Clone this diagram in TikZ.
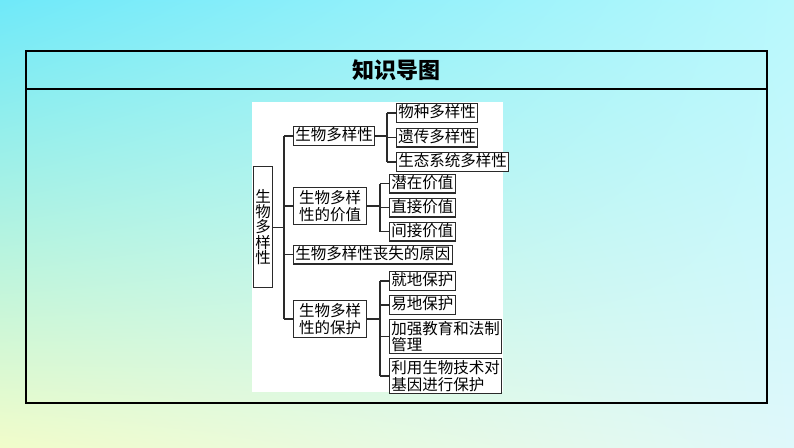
\documentclass[tikz,border=0pt]{standalone}
\usepackage{fontspec}
\newfontfamily\cjk{Noto Sans CJK SC}
\usepackage{tikz}
\usetikzlibrary{positioning,shadings}

\definecolor{bgtl}{HTML}{6FE9F9}
\definecolor{bgtr}{HTML}{B8F8FC}
\definecolor{bgbl}{HTML}{F1FCCA}
\definecolor{bgbr}{HTML}{DFF8FB}
\definecolor{inkgray}{HTML}{2A2A2A}

\begin{document}
\begin{tikzpicture}[
x=1pt,y=-1pt,
cell/.style={draw=inkgray,line width=1.1pt,fill=white,inner xsep=1.8pt,inner ysep=1.7pt,align=left,font=\cjk\fontsize{15.5}{16.5}\selectfont},
leaf/.style={cell,text height=12.5pt,text depth=3pt},
mid/.style={cell,inner xsep=5.5pt,inner ysep=3pt},
rootbox/.style={cell,minimum height=121pt,align=center,font=\cjk\fontsize{15.5}{15.3}\selectfont},
link/.style={draw=inkgray,line width=1.1pt}
]
\useasboundingbox (0,0) rectangle (794,447);
\shade[upper left=bgtl,upper right=bgtr,lower left=bgbl,lower right=bgbr] (0,0) rectangle (794,447);
\draw[line width=1.2pt] (26,51) rectangle (767,403);
\draw[line width=1.2pt] (26,89) -- (767,89);
\node[font=\cjk\bfseries\fontsize{22}{26}\selectfont] (title) at (396.5,70.5) {知识导图};
\fill[white] (252,102) rectangle (503,392);

\node[rootbox,anchor=north west] (root) at (253,166) {生\\物\\多\\样\\性};
\node[leaf,anchor=west] (div) at (293,136) {生物多样性};
\node[mid,anchor=west] (val) at (293,206) {生物多样\\性的价值};
\node[leaf,anchor=west] (loss) at (293,254.5) {生物多样性丧失的原因};
\node[mid,anchor=west] (prot) at (293,319) {生物多样\\性的保护};

\node[leaf,anchor=north west] (species) at (396,103) {物种多样性};
\node[leaf,below=4.5pt of species.south west,anchor=north west] (gene) {遗传多样性};
\node[leaf,below=4.5pt of gene.south west,anchor=north west] (eco) {生态系统多样性};

\node[leaf,anchor=north west] (latent) at (389,173.5) {潜在价值};
\node[leaf,below=4pt of latent.south west,anchor=north west] (direct) {直接价值};
\node[leaf,below=4pt of direct.south west,anchor=north west] (indirect) {间接价值};

\node[leaf,anchor=north west] (insitu) at (389,271) {就地保护};
\node[leaf,below=4pt of insitu.south west,anchor=north west] (exsitu) {易地保护};
\node[cell,below=4pt of exsitu.south west,anchor=north west] (law) {加强教育和法制\\管理};
\node[cell,below=4pt of law.south west,anchor=north west] (biotech) {利用生物技术对\\基因进行保护};

\coordinate (trunk) at (284,0);
\coordinate (fork1) at (387,0);
\coordinate (fork2) at (380,0);

\draw[link] (root.east) -- (root.east -| trunk);
\draw[link] (div.west -| trunk) -- (prot.west -| trunk);
\draw[link] (div.west) -- (div.west -| trunk);
\draw[link] (val.west) -- (val.west -| trunk);
\draw[link] (loss.west) -- (loss.west -| trunk);
\draw[link] (prot.west) -- (prot.west -| trunk);

\draw[link] (div.east) -- (div.east -| fork1);
\draw[link] (species.west -| fork1) -- (eco.west -| fork1);
\draw[link] (species.west) -- (species.west -| fork1);
\draw[link] (gene.west) -- (gene.west -| fork1);
\draw[link] (eco.west) -- (eco.west -| fork1);

\draw[link] (val.east) -- (val.east -| fork2);
\draw[link] (latent.west -| fork2) -- (indirect.west -| fork2);
\draw[link] (latent.west) -- (latent.west -| fork2);
\draw[link] (direct.west) -- (direct.west -| fork2);
\draw[link] (indirect.west) -- (indirect.west -| fork2);

\draw[link] (prot.east) -- (prot.east -| fork2);
\draw[link] (insitu.west -| fork2) -- (biotech.west -| fork2);
\draw[link] (insitu.west) -- (insitu.west -| fork2);
\draw[link] (exsitu.west) -- (exsitu.west -| fork2);
\draw[link] (law.west) -- (law.west -| fork2);
\draw[link] (biotech.west) -- (biotech.west -| fork2);
\end{tikzpicture}
\end{document}
